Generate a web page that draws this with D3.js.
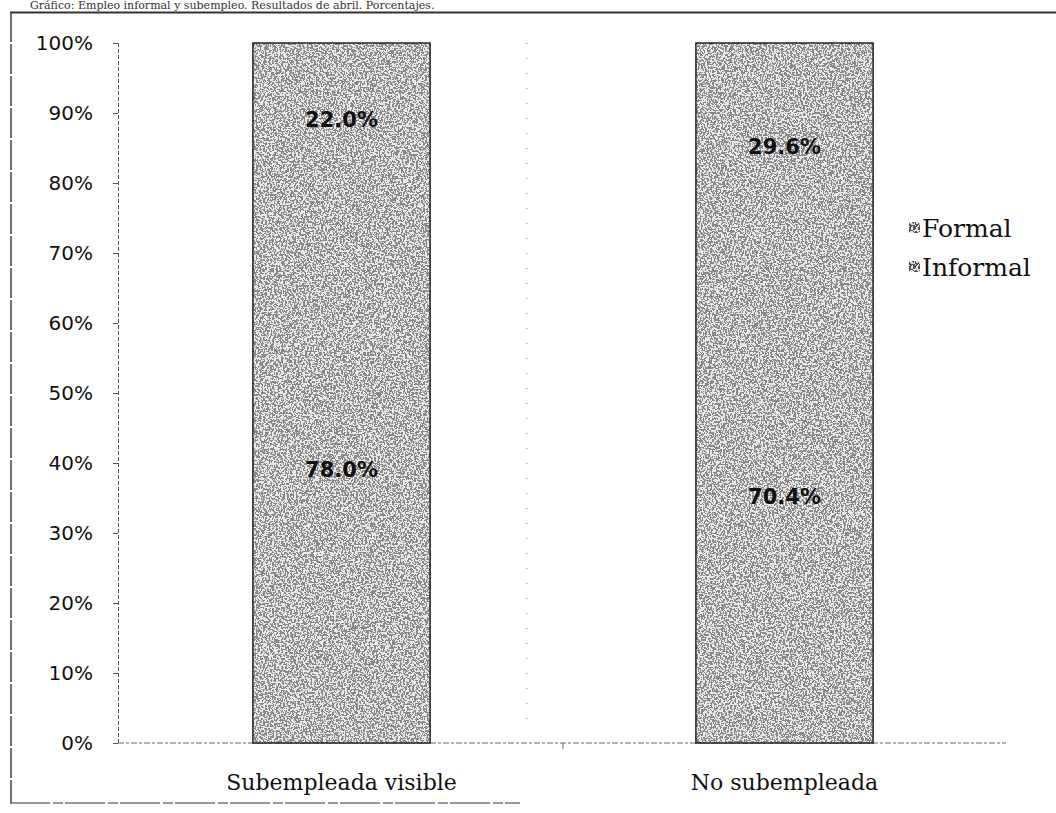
<!DOCTYPE html>
<html><head><meta charset="utf-8">
<script src="https://cdn.jsdelivr.net/npm/d3@7"></script>
<style>body{margin:0;background:#fff}svg{display:block}</style>
</head><body>
<svg id="c" width="1056" height="813"></svg>
<script>
const categories = ["Subempleada visible", "No subempleada"];
const seriesNames = ["Informal", "Formal"];
const informal = [78.0, 70.4];
const formal = [22.0, 29.6];
const yTicks = [0,10,20,30,40,50,60,70,80,90,100];
const title = "Gráfico: Empleo informal y subempleo. Resultados de abril. Porcentajes.";

const svg = d3.select("#c");
const defs = svg.append("defs");
const f = defs.append("filter").attr("id","grain").attr("x",0).attr("y",0).attr("width",1).attr("height",1);
f.append("feTurbulence").attr("type","fractalNoise").attr("baseFrequency","0.55").attr("numOctaves",2).attr("seed",3).attr("result","n");
f.append("feColorMatrix").attr("in","n").attr("type","matrix")
 .attr("values","0 0 0 0 0  0 0 0 0 0  0 0 0 0 0  4 -2 0 0 -0.5").attr("result","a");
f.append("feComponentTransfer").attr("in","a").attr("result","t")
 .append("feFuncA").attr("type","discrete").attr("tableValues","0 0.85");
f.append("feFlood").attr("flood-color","#f4f4f4").attr("result","w");
f.append("feComposite").attr("in","w").attr("in2","t").attr("operator","in").attr("result","wt");
f.append("feComposite").attr("in","wt").attr("in2","SourceGraphic").attr("operator","in").attr("result","wm");
const fm = f.append("feMerge");
fm.append("feMergeNode").attr("in","SourceGraphic");
fm.append("feMergeNode").attr("in","wm");

// frame
svg.append("text").attr("x",30).attr("y",9).attr("font-family","DejaVu Serif, serif")
 .attr("font-size",11).attr("fill","#333").text(title);
svg.append("line").attr("x1",10).attr("x2",1056).attr("y1",12.5).attr("y2",12.5).attr("stroke","#333").attr("stroke-width",2);
svg.append("line").attr("x1",11).attr("x2",11).attr("y1",12).attr("y2",804).attr("stroke","#444").attr("stroke-width",1.5).attr("stroke-dasharray","30 2");
svg.append("line").attr("x1",10).attr("x2",520).attr("y1",803).attr("y2",803).attr("stroke","#777").attr("stroke-width",1.5).attr("stroke-dasharray","40 3 10 2");

const x = d3.scaleBand().domain(categories).range([120,1006]).padding(0);
const y = d3.scaleLinear().domain([0,100]).range([743,43]);
const bw = x.bandwidth()*0.4;

// artifact dotted line
svg.append("line").attr("x1",527).attr("x2",527).attr("y1",y(100)).attr("y2",y(3)).attr("stroke","#888").attr("stroke-dasharray","1 14");

// y axis
const ya = svg.append("g").attr("transform","translate(118,0)")
 .call(d3.axisLeft(y).tickValues(yTicks).tickFormat(d=>d+"%").tickSize(5).tickPadding(20));
ya.select(".domain").attr("stroke","#555").attr("stroke-dasharray","4 2");
ya.selectAll(".tick line").attr("stroke","#555");
ya.selectAll("text").attr("font-family","DejaVu Sans, sans-serif").attr("font-size",20).attr("fill","#111");

// x axis
const xa = svg.append("g").attr("transform","translate(0,743)")
 .call(d3.axisBottom(x).tickSize(0).tickPadding(31));
xa.select(".domain").attr("d","M118,0H1006").attr("stroke","#666").attr("stroke-dasharray","6 2 3 2");
xa.selectAll("text").attr("font-family","DejaVu Serif, serif").attr("font-size",22).attr("fill","#111");
xa.append("line").attr("x1",x(categories[1])).attr("x2",x(categories[1])).attr("y1",0).attr("y2",6).attr("stroke","#666");

// stacked bars
const rows = categories.map((c,i)=>({cat:c, Informal:informal[i], Formal:formal[i]}));
const stack = d3.stack().keys(seriesNames)(rows);
const g = svg.append("g");
stack.forEach(s=>{
  g.selectAll(null).data(s).enter().append("rect")
   .attr("x",d=>x(d.data.cat)+x.bandwidth()/2-bw/2)
   .attr("width",bw)
   .attr("y",d=>y(d[1]))
   .attr("height",d=>y(d[0])-y(d[1]))
   .attr("fill","#8a8a8a")
   .attr("filter","url(#grain)");
});
// outlines of full bars
g.selectAll(null).data(rows).enter().append("rect")
 .attr("x",d=>x(d.cat)+x.bandwidth()/2-bw/2).attr("width",bw)
 .attr("y",y(100)).attr("height",y(0)-y(100))
 .attr("fill","none").attr("stroke","#222").attr("stroke-width",1.5);

// labels
stack.forEach(s=>{
  g.selectAll(null).data(s).enter().append("text")
   .attr("x",d=>x(d.data.cat)+x.bandwidth()/2)
   .attr("y",d=>y((d[0]+d[1])/2)+7)
   .attr("text-anchor","middle")
   .attr("font-family","DejaVu Sans, sans-serif").attr("font-size",21).attr("font-weight","bold")
   .attr("fill","#111")
   .text(d=>(d[1]-d[0]).toFixed(1)+"%");
});

// legend
const legend = svg.append("g").attr("transform","translate(908,237)");
["Formal","Informal"].forEach((n,i)=>{
  const lg = legend.append("g").attr("transform",`translate(0,${i*39})`);
  lg.append("rect").attr("x",1).attr("y",-15).attr("width",11).attr("height",11).attr("fill","#555").attr("filter","url(#grain)");
  lg.append("text").attr("x",14).attr("y",0).attr("font-family","DejaVu Serif, serif").attr("font-size",25).attr("fill","#111").text(n);
});
</script>
</body></html>
